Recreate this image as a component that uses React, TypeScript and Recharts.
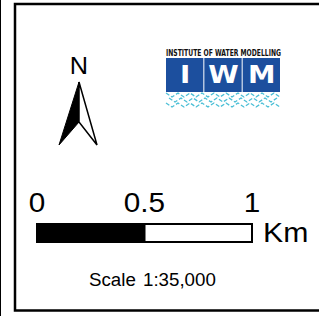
import { BarChart, Bar, XAxis, YAxis } from "recharts"

const kmTicks = [0, 0.5, 1]
const segmentKm = [0.5, 0.5] // black part, then white part
const scaleRows = [{ row: "scale", dark: segmentKm[0], light: segmentKm[1] }]
const unitLabel = "Km"
const scaleWord = "Scale"
const scaleRatio = "1:35,000"
const northLabel = "N"
const logoTitle = "INSTITUTE OF WATER MODELLING"
const logoLetters = ["I", "W", "M"]

const FONT = "'Liberation Sans', Arial, sans-serif"
const LOGO_BLUE = "#1c4f9e"
const WAVE = "#4cbfd6"

// the source text looks a bit wider than plain Arial
const stretch = (x: number, k: number) => `translate(${x},0) scale(${k},1) translate(${-x},0)`

const ScaleTick = (props: any) => {
  const { x, payload } = props
  return (
    <text
      x={x}
      y={212}
      textAnchor="middle"
      fontFamily={FONT}
      fontSize={27}
      fill="#000"
      transform={stretch(x, 1.1)}
    >
      {payload.value}
    </text>
  )
}

function waveRow(y: number, x0: number, x1: number, amp: number, step: number) {
  const pts: string[] = []
  let up = true
  for (let x = x0; x <= x1; x += step) {
    pts.push(`${x},${up ? y - amp : y + amp}`)
    up = !up
  }
  return pts.join(" ")
}

function Overlay() {
  const logoX = 166
  const logoW = 115
  const cellW = logoW / logoLetters.length
  return (
    <svg
      width={319}
      height={316}
      style={{ position: "absolute", left: 0, top: 0, pointerEvents: "none" }}
    >
      {/* frame */}
      <line x1={0.5} y1={0} x2={0.5} y2={316} stroke="#000" strokeWidth={1} />
      <rect x={15} y={4} width={330} height={306.5} fill="none" stroke="#000" strokeWidth={2.5} />

      {/* north arrow */}
      <text
        x={79}
        y={74}
        textAnchor="middle"
        fontFamily={FONT}
        fontSize={23}
        fill="#000"
        transform={stretch(79, 1.1)}
      >
        {northLabel}
      </text>
      <polygon points="79,82 59,145 79,122" fill="#000" stroke="#000" strokeWidth={1} />
      <polygon points="79,82 97,145 79,122" fill="#fff" stroke="#000" strokeWidth={1.5} />

      {/* IWM logo */}
      <text
        x={logoX}
        y={56}
        fontFamily="'DejaVu Sans Condensed', 'DejaVu Sans', sans-serif"
        fontWeight="bold"
        fontSize={8}
        textLength={logoW}
        lengthAdjust="spacingAndGlyphs"
        fill="#111"
      >
        {logoTitle}
      </text>
      {logoLetters.map((ch, i) => {
        const cx = logoX + i * cellW + cellW / 2
        return (
          <g key={ch}>
            <rect x={logoX + i * cellW} y={58} width={cellW - 1} height={34} fill={LOGO_BLUE} />
            <text
              x={cx}
              y={83}
              textAnchor="middle"
              fontFamily="'DejaVu Sans', sans-serif"
              fontWeight="bold"
              fontSize={24}
              fill="#fff"
              transform={stretch(cx, 1.15)}
            >
              {ch}
            </text>
          </g>
        )
      })}
      {[95, 100, 105].map((y, i) => (
        <polyline
          key={y}
          points={waveRow(y, logoX + (i % 2) * 3, logoX + logoW, 2, 6)}
          fill="none"
          stroke={WAVE}
          strokeWidth={1.3}
          strokeDasharray="4 2"
        />
      ))}

      {/* unit and scale text */}
      <text x={263} y={242} fontFamily={FONT} fontSize={27} fill="#000" transform={stretch(263, 1.12)}>
        {unitLabel}
      </text>
      <text x={89} y={286} fontFamily={FONT} fontSize={18} fill="#000" transform={stretch(89, 1.04)}>
        {scaleWord}
      </text>
      <text x={143} y={286} fontFamily={FONT} fontSize={18} fill="#000" transform={stretch(143, 1.04)}>
        {scaleRatio}
      </text>
    </svg>
  )
}

export default function App() {
  return (
    <div style={{ position: "absolute", left: 0, top: 0, width: 319, height: 316, background: "#fff" }}>
      <BarChart
        width={319}
        height={316}
        layout="vertical"
        data={scaleRows}
        margin={{ top: 194, right: 67, bottom: 74, left: 37 }}
        barCategoryGap={0}
      >
        <XAxis
          type="number"
          orientation="top"
          domain={[0, 1]}
          ticks={kmTicks}
          interval={0}
          height={30}
          axisLine={false}
          tickLine={false}
          tick={ScaleTick}
        />
        <YAxis type="category" dataKey="row" hide width={0} />
        <Bar dataKey="dark" stackId="s" fill="#000" stroke="#000" strokeWidth={2} isAnimationActive={false} />
        <Bar dataKey="light" stackId="s" fill="#fff" stroke="#000" strokeWidth={2} isAnimationActive={false} />
      </BarChart>
      <Overlay />
    </div>
  )
}
